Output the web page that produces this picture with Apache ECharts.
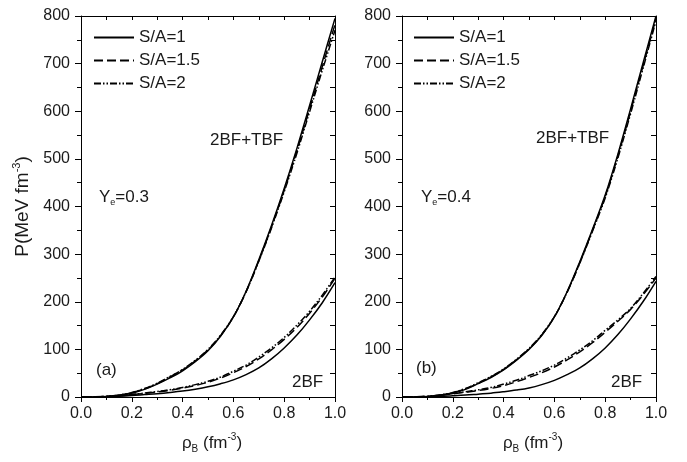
<!DOCTYPE html>
<html><head><meta charset="utf-8">
<script src="https://cdn.jsdelivr.net/npm/echarts@6/dist/echarts.min.js"></script>
<style>html,body{margin:0;padding:0;background:#fff}#c{width:687px;height:462px}</style>
</head><body><div id="c"></div>
<script>
// density grid (fm^-3)
const rho = [0,0.05,0.1,0.15,0.2,0.25,0.3,0.35,0.4,0.45,0.5,0.55,0.6,0.65,0.7,0.75,0.8,0.85,0.9,0.95,1.0];
const names = ['S/A=1','S/A=1.5','S/A=2'];
const xTicks = ['0.0','0.2','0.4','0.6','0.8','1.0'];
const yTicks = [0,100,200,300,400,500,600,700,800];

// Panel (a) Ye=0.3
const a_tbf_1  = [0,0.2,1,3.5,8,16,27,40,55,74,97,128,168,222,288,360,438,522,612,704,795];
const a_tbf_15 = [0,0.3,1.3,4,9,17,28,42,57,76,99,129,168,221,286,357,434,517,605,694,782];
const a_tbf_2  = [0,0.3,1.4,4.2,9.5,18,29,43,58,77,100,130,169,221,285,355,431,512,599,686,770];
const a_2bf_1  = [0,0.1,0.6,1.5,3,5,7,9.5,12.5,16.5,21.5,28,36,47,61,80,103,130,162,198,240];
const a_2bf_15 = [0,0.2,1,2.5,5,7.5,10.5,14,18.5,24,31,40,51,64,80,99,121,146,176,210,249];
const a_2bf_2  = [0,0.2,1.1,2.8,5.5,8.2,11.5,15.3,20,26,33,42,54,67,84,103,125,151,180,214,252];

// Panel (b) Ye=0.4
const b_tbf_1  = [0,0.2,1,3.5,8,16,28,41,57,77,100,129,168,221,284,352,424,510,605,703,800];
const b_tbf_15 = [0,0.3,1.2,4,9,17,29,42,58,78,101,130,168,220,282,350,421,506,600,697,795];
const b_tbf_2  = [0,0.3,1.3,4.2,9.5,18,30,43,59,79,102,131,169,220,281,348,418,502,595,692,790];
const b_2bf_1  = [0,0.1,0.5,1.2,2.5,4,6,8,11,14.5,19,26,35,47,61,80,103,131,164,201,243];
const b_2bf_15 = [0,0.3,1.2,3.5,6.5,10,13.5,18,24,32,41,51,63,78,95,114,136,159,184,215,250];
const b_2bf_2  = [0,0.3,1.3,4,7.5,11,15,20,27,35,45,55,67,82,99,118,140,162,186,218,253];

const FONT = '"Liberation Sans", Arial, sans-serif';
const TXT = '#1a1a1a';
const dashes = ['solid', [9,4], [7,2,1.5,2,1.5,2]];

function zip(ys){ return rho.map((x,i)=>[x, ys[i]]); }
function mk(name, ys, gi){
  const k = names.indexOf(name);
  return {
    name, type:'line', data: zip(ys), xAxisIndex: gi*2, yAxisIndex: gi*2,
    smooth: 0.35, symbol:'none', silent:true,
    lineStyle:{color:'#000', width:1.5, type: dashes[k]},
    itemStyle:{color:'#000'}
  };
}
const series = [
  mk('S/A=1', a_tbf_1, 0), mk('S/A=1.5', a_tbf_15, 0), mk('S/A=2', a_tbf_2, 0),
  mk('S/A=1', a_2bf_1, 0), mk('S/A=1.5', a_2bf_15, 0), mk('S/A=2', a_2bf_2, 0),
  mk('S/A=1', b_tbf_1, 1), mk('S/A=1.5', b_tbf_15, 1), mk('S/A=2', b_tbf_2, 1),
  mk('S/A=1', b_2bf_1, 1), mk('S/A=1.5', b_2bf_15, 1), mk('S/A=2', b_2bf_2, 1)
];

const axisLine = {show:true, onZero:false, lineStyle:{color:'#000', width:1}};
const tickLab = {color:TXT, fontSize:16, fontFamily:FONT};
const richY = {
  a:{fontSize:19, fontFamily:FONT, color:TXT, lineHeight:24},
  s:{fontSize:11, fontFamily:FONT, color:TXT, verticalAlign:'top'}
};
const richX = {
  a:{fontSize:17, fontFamily:FONT, color:TXT, lineHeight:22},
  s:{fontSize:10, fontFamily:FONT, color:TXT, verticalAlign:'top'},
  b:{fontSize:10, fontFamily:FONT, color:TXT, verticalAlign:'bottom'}
};

function xAxes(gi){
  return [{
    type:'value', gridIndex:gi, min:0, max:1, interval:0.2, position:'bottom',
    axisLine, splitLine:{show:false},
    axisTick:{show:true, inside:false, length:5, lineStyle:{color:'#000'}},
    minorTick:{show:true, splitNumber:2, length:3, lineStyle:{color:'#000'}},
    axisLabel:Object.assign({margin:9, formatter:(v)=>xTicks[Math.round(v*5)]}, tickLab),
    name:'{a|ρ}{b|B}{a| (fm}{s|-3}{a|)}', nameLocation:'middle', nameGap:35,
    nameTextStyle:{rich:richX, padding:[0,0,0,8]}
  },{
    type:'value', gridIndex:gi, min:0, max:1, interval:0.1, position:'top',
    axisLine, splitLine:{show:false},
    axisTick:{show:true, inside:true, length:4, lineStyle:{color:'#000'}},
    axisLabel:{show:false}
  }];
}
function yAxes(gi){
  const main = {
    type:'value', gridIndex:gi, min:0, max:800, interval:100, position:'left',
    axisLine, splitLine:{show:false},
    axisTick:{show:true, inside:false, length:6, lineStyle:{color:'#000'}},
    minorTick:{show:true, splitNumber:2, length:4, lineStyle:{color:'#000'}},
    axisLabel:Object.assign({margin:11, formatter:(v)=>String(yTicks[Math.round(v/100)])}, tickLab)
  };
  if (gi===0){
    main.name = '{a|P(MeV fm}{s|-3}{a|)}';
    main.nameLocation = 'middle';
    main.nameGap = 46;
    main.nameTextStyle = {rich:richY};
  }
  return [main, {
    type:'value', gridIndex:gi, min:0, max:800, interval:50, position:'right',
    axisLine, splitLine:{show:false},
    axisTick:{show:true, inside:true, length:5, lineStyle:{color:'#000'}},
    axisLabel:{show:false}
  }];
}

const legendBase = {
  orient:'vertical', top:29, padding:0, itemWidth:40, itemHeight:16, itemGap:6, itemTextGap:4,
  selectedMode:false, data:names,
  itemStyle:{opacity:0},
  textStyle:{fontSize:17, fontFamily:FONT, color:TXT}
};

const annRich = {
  n:{fontSize:17, fontFamily:FONT, fill:TXT, lineHeight:20},
  sub:{fontSize:9, fontFamily:FONT, fill:TXT, verticalAlign:'bottom'}
};
function label(x, y, text){
  return {type:'text', x, y, silent:true,
    style:{text, rich:annRich, fontSize:17, fontFamily:FONT, fill:TXT, verticalAlign:'middle', align:'left'}};
}

const option = {
  animation:false,
  backgroundColor:'#fff',
  grid:[
    {left:81, right:352, top:16, bottom:65, containLabel:false},
    {left:402, right:31, top:16, bottom:65, containLabel:false}
  ],
  xAxis:[...xAxes(0), ...xAxes(1)],
  yAxis:[...yAxes(0), ...yAxes(1)],
  legend:[Object.assign({left:93}, legendBase), Object.assign({left:413}, legendBase)],
  graphic:[
    label(210, 140, '{n|2BF+TBF}'),
    label(536, 138, '{n|2BF+TBF}'),
    label(99, 197, '{n|Y}{sub|e}{n|=0.3}'),
    label(421, 197, '{n|Y}{sub|e}{n|=0.4}'),
    label(96, 370, '{n|(a)}'),
    label(416, 368, '{n|(b)}'),
    label(292, 382, '{n|2BF}'),
    label(611, 382, '{n|2BF}')
  ],
  series
};
const chart = echarts.init(document.getElementById('c'), null, {renderer:'canvas'});
chart.setOption(option);
</script>
</body></html>
